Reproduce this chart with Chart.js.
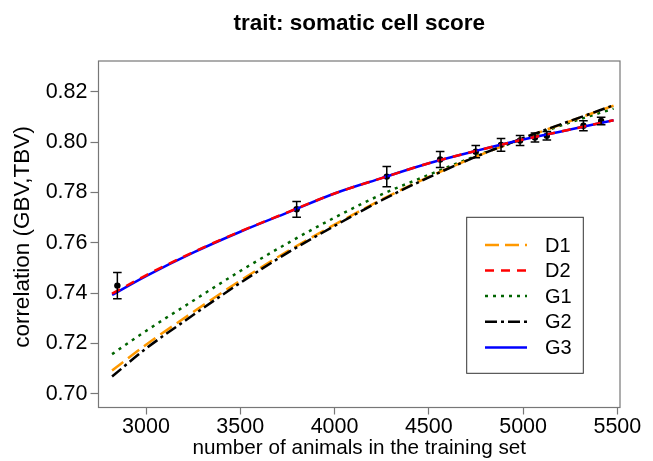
<!DOCTYPE html>
<html>
<head>
<meta charset="utf-8">
<script src="https://cdn.jsdelivr.net/npm/chart.js@4/dist/chart.umd.min.js"></script>
<style>
  html, body { margin: 0; padding: 0; background: #ffffff; }
  #wrap { width: 653px; height: 461px; position: relative; }
</style>
</head>
<body>
<div id="wrap"><canvas id="c" width="653" height="461"></canvas></div>
<script>
// ---- data ----
const titleText = "trait: somatic cell score";
const xTitle = "number of animals in the training set";
const yTitle = "correlation (GBV,TBV)";
const xTicks = [3000, 3500, 4000, 4500, 5000, 5500];
const yTicks = [0.70, 0.72, 0.74, 0.76, 0.78, 0.80, 0.82];

const curveX = [2820, 3000, 3250, 3500, 3750, 4000, 4250, 4500, 4750, 5000, 5250, 5480];
const D1 = [0.7093, 0.7195, 0.7325, 0.7450, 0.7566, 0.7672, 0.7772, 0.7862, 0.7942, 0.8015, 0.8083, 0.8145];
const D2 = [0.7398, 0.7471, 0.7563, 0.7645, 0.7721, 0.7796, 0.7857, 0.7916, 0.7965, 0.8010, 0.8050, 0.8087];
const G1 = [0.7158, 0.7250, 0.7370, 0.7488, 0.7598, 0.7700, 0.7792, 0.7870, 0.7945, 0.8013, 0.8078, 0.8133];
const G2 = [0.7069, 0.7180, 0.7313, 0.7441, 0.7560, 0.7667, 0.7769, 0.7860, 0.7942, 0.8016, 0.8084, 0.8146];
const G3 = [0.7393, 0.7468, 0.7561, 0.7644, 0.7720, 0.7796, 0.7857, 0.7916, 0.7965, 0.8010, 0.8050, 0.8087];

const obsX   = [2848, 3799, 4277, 4560, 4749, 4883, 4984, 5063, 5126, 5320, 5414];
const obsY   = [0.7430, 0.7733, 0.7863, 0.7931, 0.7962, 0.7989, 0.8006, 0.8018, 0.8025, 0.8065, 0.8084];
const obsErr = [0.0052, 0.0031, 0.0040, 0.0032, 0.0024, 0.0025, 0.0020, 0.0018, 0.0017, 0.0020, 0.0015];

const seriesNames = ["D1", "D2", "G1", "G2", "G3"];
// ---- styles ----
const FONT = "'Liberation Sans', Arial, Helvetica, sans-serif";
const styles = {
  D1: { color: "#FF9900", dash: [14, 6] },
  D2: { color: "#FF0000", dash: [9, 7] },
  G1: { color: "#006400", dash: [3, 5] },
  G2: { color: "#000000", dash: [12, 4, 3, 4] },
  G3: { color: "#0000FF", dash: [] }
};
const drawOrder = { D2: 1, G3: 2, G2: 3, D1: 4, G1: 5 };
const seriesData = { D1, D2, G1, G2, G3 };

function pts(xs, ys) { return xs.map((x, i) => ({ x: x, y: ys[i] })); }

const datasets = seriesNames.map(n => ({
  label: n,
  data: pts(curveX, seriesData[n]),
  borderColor: styles[n].color,
  borderDash: styles[n].dash,
  borderWidth: 2.5,
  pointRadius: 0,
  fill: false,
  cubicInterpolationMode: 'monotone',
  order: drawOrder[n]
}));
datasets.push({
  label: "obs",
  data: pts(obsX, obsY),
  showLine: false,
  pointRadius: 3.2,
  pointBackgroundColor: "#000000",
  pointBorderColor: "#000000",
  pointBorderWidth: 0,
  order: 6
});

const AREA = { left: 98.5, right: 620, top: 61, bottom: 407.5 };

const decorPlugin = {
  id: 'decor',
  afterDatasetsDraw(chart) {
    const ctx = chart.ctx;
    const xs = chart.scales.x, ys = chart.scales.y;
    ctx.save();
    ctx.strokeStyle = "#000000";
    ctx.lineWidth = 1.5;
    ctx.setLineDash([]);
    obsX.forEach((xv, i) => {
      const px = xs.getPixelForValue(xv);
      const top = ys.getPixelForValue(obsY[i] + obsErr[i]);
      const bot = ys.getPixelForValue(obsY[i] - obsErr[i]);
      ctx.beginPath();
      ctx.moveTo(px, top); ctx.lineTo(px, bot);
      ctx.moveTo(px - 4.3, top); ctx.lineTo(px + 4.3, top);
      ctx.moveTo(px - 4.3, bot); ctx.lineTo(px + 4.3, bot);
      ctx.stroke();
    });
    ctx.restore();
  },
  afterDraw(chart) {
    const ctx = chart.ctx;
    const ca = chart.chartArea;
    ctx.save();
    // plot box
    ctx.strokeStyle = "#777777";
    ctx.lineWidth = 1.2;
    ctx.setLineDash([]);
    ctx.strokeRect(ca.left, ca.top, ca.right - ca.left, ca.bottom - ca.top);
    // title
    ctx.fillStyle = "#000000";
    ctx.font = "bold 22.5px " + FONT;
    ctx.textAlign = "center";
    ctx.textBaseline = "middle";
    ctx.fillText(titleText, (ca.left + ca.right) / 2, 24);
    // axis titles
    ctx.font = "20.7px " + FONT;
    ctx.fillText(xTitle, (ca.left + ca.right) / 2, 448);
    ctx.save();
    ctx.translate(23, 237);
    ctx.rotate(-Math.PI / 2);
    ctx.font = "22.5px " + FONT;
    ctx.fillText(yTitle, 0, 0);
    ctx.restore();
    // legend
    const lx = 466.7, ly = 217.3, lw = 116.6, lh = 156;
    ctx.fillStyle = "#ffffff";
    ctx.fillRect(lx, ly, lw, lh);
    ctx.strokeStyle = "#333333";
    ctx.lineWidth = 1;
    ctx.strokeRect(lx, ly, lw, lh);
    const rowY = [245, 270.5, 296, 321.7, 347.5];
    seriesNames.forEach((n, i) => {
      const y = rowY[i];
      ctx.strokeStyle = styles[n].color;
      ctx.lineWidth = 2.5;
      ctx.setLineDash(styles[n].dash);
      ctx.beginPath();
      ctx.moveTo(485, y); ctx.lineTo(527, y);
      ctx.stroke();
      ctx.setLineDash([]);
      ctx.fillStyle = "#000000";
      ctx.font = "20px " + FONT;
      ctx.textAlign = "left";
      ctx.textBaseline = "middle";
      ctx.fillText(n, 545, y + 1);
    });
    ctx.restore();
  }
};

new Chart(document.getElementById('c'), {
  type: 'line',
  data: { datasets: datasets },
  options: {
    responsive: false,
    animation: false,
    devicePixelRatio: 1,
    layout: { padding: { left: 0, right: 653 - AREA.right, top: AREA.top, bottom: 0 } },
    plugins: { legend: { display: false }, title: { display: false }, tooltip: { enabled: false } },
    scales: {
      x: {
        type: 'linear',
        min: 2748, max: 5514,
        afterBuildTicks: s => { s.ticks = xTicks.map(v => ({ value: v })); },
        afterFit: s => { s.height = 461 - AREA.bottom; },
        grid: { drawOnChartArea: false, drawTicks: true, tickLength: 7, color: "#777777", tickWidth: 1.2 },
        border: { display: false },
        ticks: { color: "#000000", font: { family: FONT, size: 21.5 }, padding: 0, maxRotation: 0, autoSkip: false,
                 callback: v => String(v) }
      },
      y: {
        type: 'linear',
        min: 0.6946, max: 0.8322,
        afterBuildTicks: s => { s.ticks = yTicks.map(v => ({ value: v })); },
        afterFit: s => { s.width = AREA.left; },
        grid: { drawOnChartArea: false, drawTicks: true, tickLength: 8, color: "#777777", tickWidth: 1.2 },
        border: { display: false },
        ticks: { color: "#000000", font: { family: FONT, size: 21.5 }, padding: 3, autoSkip: false,
                 callback: v => v.toFixed(2) }
      }
    }
  },
  plugins: [decorPlugin]
});
</script>
</body>
</html>
